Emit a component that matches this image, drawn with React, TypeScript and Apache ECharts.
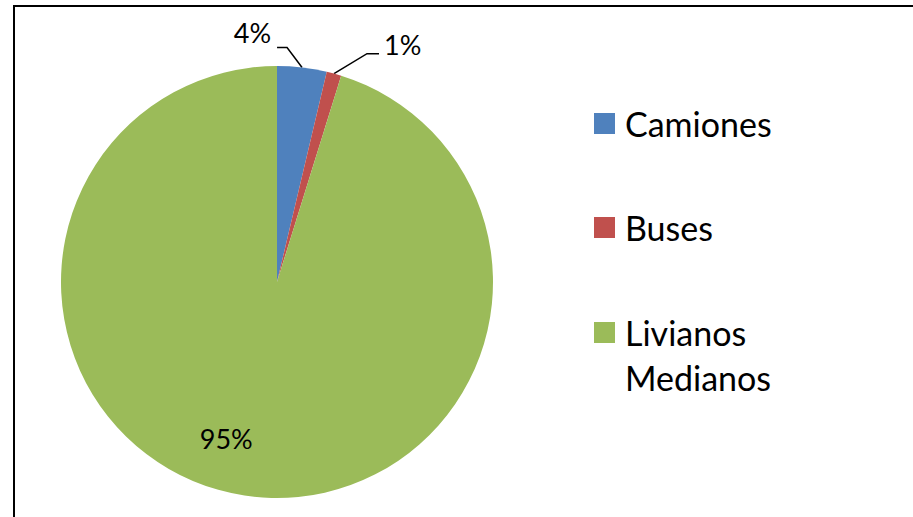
import React, { useEffect, useRef } from "react";
import * as echarts from "echarts";

const categories: string[] = ["Camiones", "Buses", "Livianos Medianos"];
const values: number[] = [3.7, 1.1, 95.2];
const colors: string[] = ["#4F81BD", "#C0504D", "#9BBB59"];

const FONT = "Lato";
const CX = 277;
const CY = 282;
const R = 216;

const legendText = {
  fontFamily: FONT,
  fontSize: 34,
  color: "#000",
  lineHeight: 45,
  padding: [0, 0, 0, 5],
};

const legendBase = {
  orient: "vertical",
  left: 594,
  padding: 0,
  itemWidth: 21,
  itemHeight: 21,
  itemGap: 59,
  icon: "rect",
  itemStyle: { borderWidth: 0 },
  textStyle: legendText,
};

export default function App() {
  const ref = useRef<HTMLDivElement>(null);
  useEffect(() => {
    if (!ref.current) return;
    const chart = echarts.init(ref.current, undefined, { renderer: "svg" });
    const data = categories.map((name, i) => {
      const item: any = { name, value: values[i], itemStyle: { color: colors[i] } };
      if (i === 2) {
        item.label = { position: "inside" };
        item.labelLine = { show: false };
      }
      return item;
    });
    chart.setOption({
      animation: false,
      backgroundColor: "#fff",
      graphic: [
        {
          type: "rect",
          shape: { x: 14, y: 6, width: 1000, height: 600 },
          style: { fill: "none", stroke: "#000", lineWidth: 2 },
          silent: true,
        },
      ],
      legend: [
        {
          ...legendBase,
          top: 101,
          data: [categories[0], categories[1]],
        },
        {
          ...legendBase,
          top: 265,
          // blank first line keeps the marker beside the first text line
          formatter: (name: string) => "\n" + name.replace(" ", "\n"),
          data: [categories[2]],
        },
      ],
      series: [
        {
          type: "pie",
          center: [CX, CY],
          radius: R,
          startAngle: 90,
          clockwise: true,
          avoidLabelOverlap: false,
          data,
          itemStyle: { borderWidth: 0 },
          label: {
            show: true,
            fontFamily: FONT,
            fontSize: 27,
            color: "#000",
            formatter: (p: any) => Math.round(p.percent) + "%",
          },
          labelLine: {
            show: true,
            length: 20,
            length2: 10,
            smooth: false,
            lineStyle: { color: "#000", width: 1.5 },
          },
          labelLayout: (p: any) => {
            if (p.dataIndex === 2) {
              const ang = (198 * Math.PI) / 180;
              return {
                x: CX + Math.sin(ang) * R * 0.76,
                y: CY - Math.cos(ang) * R * 0.76,
                align: "center",
                verticalAlign: "middle",
              };
            }
            const pts = p.labelLinePoints;
            if (!pts || !pts[0]) return {};
            const p0 = pts[0];
            if (p.dataIndex === 0) {
              const p1 = [p0[0] - 15, p0[1] - 20];
              const p2 = [p1[0] - 10, p1[1]];
              return {
                x: p2[0] - 6,
                y: p2[1] - 15,
                align: "right",
                verticalAlign: "middle",
                labelLinePoints: [p0, p1, p2],
              };
            }
            const p1 = [p0[0] + 33, p0[1] - 20];
            const p2 = [p1[0] + 12, p1[1]];
            return {
              x: p2[0] + 5,
              y: p2[1] - 9,
              align: "left",
              verticalAlign: "middle",
              labelLinePoints: [p0, p1, p2],
            };
          },
        },
      ],
    });
    return () => chart.dispose();
  }, []);
  return (
    <div
      ref={ref}
      style={{ position: "fixed", left: 0, top: 0, width: 913, height: 517 }}
    />
  );
}
